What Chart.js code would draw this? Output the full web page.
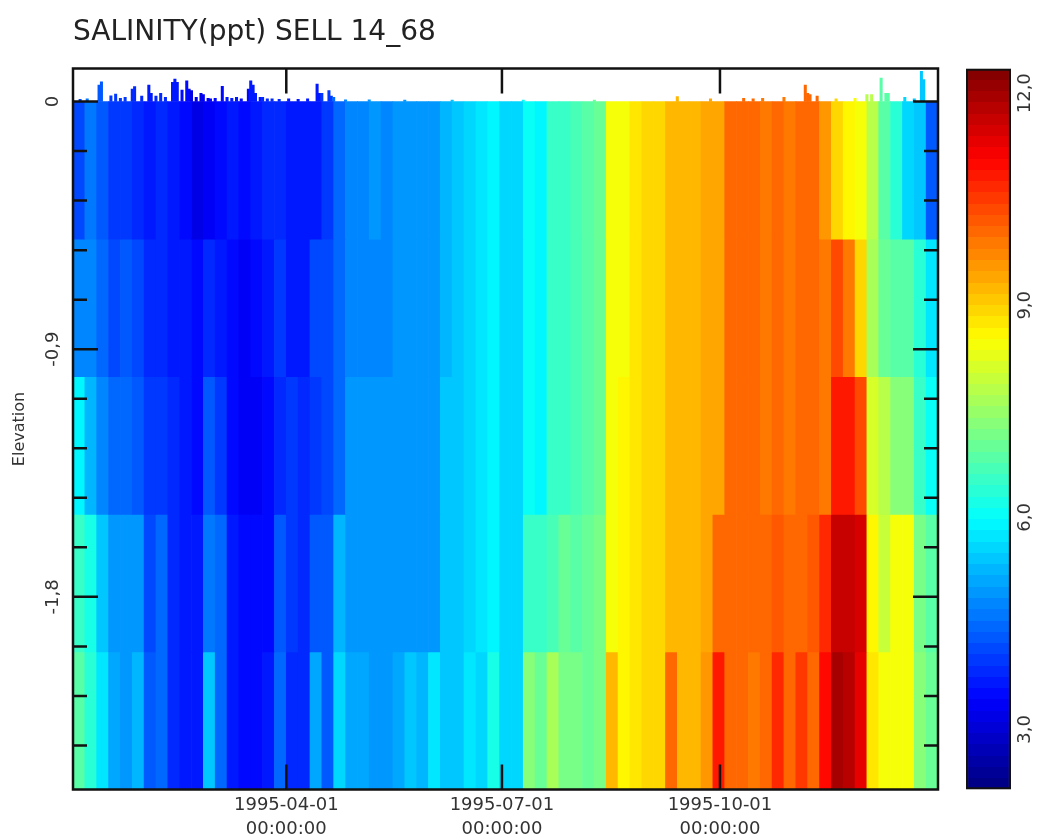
<!DOCTYPE html>
<html>
<head>
<meta charset="utf-8">
<script src="https://cdn.jsdelivr.net/npm/chart.js@4.4.1/dist/chart.umd.min.js"></script>
<style>
  html, body { margin: 0; padding: 0; background: #fff; }
  #wrap { position: relative; width: 1041px; height: 838px; }
  #main { position: absolute; left: 0; top: 0; }
  #bar { position: absolute; left: 940px; top: 0; }
</style>
</head>
<body>
<div id="wrap">
  <canvas id="main" width="1041" height="838"></canvas>
  <canvas id="bar" width="101" height="838"></canvas>
</div>
<script>
// one column every 5 days, starting 1995-01-01
const stepDays = 5;

// salinity (ppt) per layer, top layer first
const sal1 = [4.2,4.6,4.3,4.0,4.0,3.8,3.7,3.8,3.6,3.5,3.2,3.3,3.5,3.6,3.5,3.7,3.8,3.9,
              3.6,3.6,3.7,4.0,4.5,4.8,4.8,4.9,4.8,4.9,4.9,4.9,4.9,5.3,5.4,5.6,5.7,5.9,
              5.5,5.6,6.0,5.9,6.5,6.5,6.7,6.9,7.0,8.4,8.5,8.7,8.9,9.0,9.2,9.3,9.3,9.4,
              9.4,10.1,10.0,10.0,9.9,10.1,9.9,10.1,10.0,9.5,9.0,8.6,8.4,7.8,6.8,6.4,5.6,5.4,4.3];
const sal2 = [4.8,4.7,4.4,4.2,4.3,4.1,3.9,3.9,3.7,3.6,3.5,3.9,3.6,3.5,3.4,3.5,3.6,4.0,
              3.7,3.6,4.1,4.1,4.4,4.8,4.8,4.8,4.8,4.9,4.9,4.9,5.0,5.3,5.4,5.6,5.7,5.9,
              5.5,5.6,6.0,5.9,6.5,6.5,6.7,6.9,7.0,8.4,8.5,8.7,8.9,9.0,9.2,9.3,9.3,9.4,
              9.4,10.1,10.0,10.0,9.9,10.1,9.9,10.1,10.0,9.8,10.4,9.8,9.0,7.6,7.0,6.9,6.8,6.3,5.8];
const sal3 = [5.9,5.2,4.7,4.5,4.5,4.3,4.0,4.0,3.8,3.6,3.5,4.3,4.0,3.5,3.4,3.4,3.5,3.9,
              4.0,3.9,4.0,4.1,4.5,4.9,4.9,4.9,4.9,4.9,5.0,5.0,5.0,5.4,5.4,5.6,5.7,5.9,
              5.5,5.6,6.0,5.9,6.5,6.6,6.7,6.9,7.0,8.4,8.6,8.7,8.9,9.0,9.2,9.3,9.3,9.4,
              9.4,10.1,10.0,10.0,9.9,10.1,9.9,10.1,10.0,9.9,10.9,10.9,10.3,8.2,7.8,7.4,7.3,6.6,6.0];
const sal4 = [6.6,6.2,5.4,4.9,5.0,4.9,4.2,4.5,3.8,3.6,3.6,4.6,4.4,3.6,3.5,3.5,3.5,4.3,
              4.0,3.8,4.3,4.3,5.3,5.0,4.9,4.9,4.9,4.9,5.0,5.0,5.0,5.4,5.4,5.6,5.7,5.9,
              5.5,5.6,6.5,6.6,6.7,7.0,6.9,7.0,7.2,8.5,8.6,8.7,8.9,9.0,9.2,9.2,9.3,9.4,
              10.0,10.1,10.0,10.0,10.0,10.2,10.1,10.1,10.2,10.6,11.6,11.6,11.4,8.6,8.0,8.4,8.4,7.2,6.8];
const sal5 = [6.9,6.4,5.7,5.1,5.0,5.2,4.3,4.4,3.9,3.7,3.7,5.4,4.5,3.7,3.5,3.5,3.6,4.4,
              3.9,3.8,5.1,4.3,5.6,5.1,5.1,5.0,5.0,5.1,5.4,5.2,5.8,5.4,5.4,5.8,5.5,6.2,
              5.5,5.6,7.3,7.0,7.6,7.1,7.1,7.0,7.1,9.3,8.6,8.7,9.0,9.0,10.1,9.3,9.3,9.5,
              10.8,10.1,10.0,9.9,10.0,10.6,10.0,10.5,10.1,11.0,12.0,11.8,11.3,8.8,8.5,8.4,8.4,7.4,7.0];

// layer limits (m)
const layerTop = [0, -0.5, -1.0, -1.5, -2.0];
const layerBottom = [-0.5, -1.0, -1.5, -2.0, -2.5];

// water surface above 0 (day of year, elevation)
const surfaceDay = [3,6,11,12,16,18,20,22,25,26,29,32,33,35,37,39,42,43,44,46,48,49,50,52,54,55,57,58,60,63,65,67,69,71,
                    74,75,76,77,79,80,82,84,87,91,95,99,103,104,105,108,109,110,115,125,140,160,190,220,
                    255,269,283,287,291,300,309,310,311,314,322,330,335,337,341,343,344,351,355,358,359];
const surfaceLevel = [0.008,0.01,0.06,0.072,0.021,0.027,0.012,0.015,0.045,0.054,0.02,0.06,0.03,0.02,0.03,0.015,0.07,0.082,0.07,0.042,0.075,0.045,0.04,0.015,0.03,0.025,0.012,0.01,0.012,0.055,0.015,0.012,0.015,0.01,
                      0.045,0.075,0.06,0.03,0.015,0.015,0.01,0.01,0.008,0.01,0.008,0.01,0.063,0.03,0.03,0.04,0.02,0.015,0.006,0.006,0.005,0.005,0.005,0.005,
                      0.018,0.01,0.012,0.01,0.012,0.015,0.06,0.03,0.025,0.02,0.01,0.012,0.025,0.025,0.085,0.03,0.03,0.015,0.01,0.11,0.08];

// axes
const dateTicks = [90, 181, 273];
const dateLabels = ['1995-04-01', '1995-07-01', '1995-10-01'];
const elevTicks = [0, -0.9, -1.8];
const colorTicks = [3, 6, 9, 12];
const cMin = 2.15, cMax = 12.35;

Chart.defaults.font.family = "'DejaVu Sans', sans-serif";
Chart.defaults.color = '#333';

function jetT(t) {
  const c = x => Math.round(255 * Math.min(1, Math.max(0, x)));
  return `rgb(${c(1.5 - Math.abs(4 * t - 3))},${c(1.5 - Math.abs(4 * t - 2))},${c(1.5 - Math.abs(4 * t - 1))})`;
}
function jet(v) {
  let t = (v - cMin) / (cMax - cMin);
  let k = Math.min(63, Math.max(0, Math.floor(t * 64)));
  return jetT((k + 0.5) / 64);
}
const comma = v => v === 0 ? '0' : v.toFixed(1).replace('.', ',');

const layers = [sal1, sal2, sal3, sal4, sal5];
const datasets = layers.map((vals, k) => ({
  label: 'layer ' + (k + 1),
  data: vals.map((v, i) => ({ x: i * stepDays + stepDays / 2, y: [layerBottom[k], layerTop[k]] })),
  backgroundColor: vals.map(jet),
  grouped: false,
  barPercentage: 1,
  categoryPercentage: 1,
  borderWidth: 0,
}));
datasets.push({
  label: 'surface',
  xAxisID: 'x2',
  data: surfaceDay.map((d, i) => ({ x: d, y: [0, surfaceLevel[i]] })),
  backgroundColor: surfaceDay.map(d => jet(sal1[Math.min(sal1.length - 1, Math.floor(d / stepDays))])),
  grouped: false,
  barPercentage: 1,
  categoryPercentage: 1,
  borderWidth: 0,
});

// frame + inward ticks on all four sides
const frameTicks = {
  id: 'frameTicks',
  afterDatasetsDraw(chart) {
    const { ctx, chartArea: a, scales: { x, y } } = chart;
    ctx.save();
    ctx.strokeStyle = '#111';
    ctx.lineWidth = 2.5;
    ctx.beginPath();
    dateTicks.forEach(v => {
      const px = x.getPixelForValue(v);
      ctx.moveTo(px, a.top); ctx.lineTo(px, a.top + 25);
      ctx.moveTo(px, a.bottom); ctx.lineTo(px, a.bottom - 25);
    });
    for (let k = 0; k <= 13; k++) {
      const py = y.getPixelForValue(-0.18 * k);
      const len = k % 5 === 0 ? 25 : 14;
      ctx.moveTo(a.left, py); ctx.lineTo(a.left + len, py);
      ctx.moveTo(a.right, py); ctx.lineTo(a.right - len, py);
    }
    ctx.stroke();
    ctx.strokeRect(a.left, a.top, a.width, a.height);
    ctx.restore();
  }
};

new Chart(document.getElementById('main'), {
  type: 'bar',
  data: { datasets },
  plugins: [frameTicks],
  options: {
    responsive: false,
    animation: false,
    layout: { padding: { left: 0, right: 103, top: 0, bottom: 0 } },
    plugins: {
      legend: { display: false },
      tooltip: { enabled: false },
      title: {
        display: true,
        text: 'SALINITY(ppt) SELL 14_68',
        align: 'start',
        fullSize: false,
        color: '#222',
        font: { size: 28, weight: 'normal', lineHeight: 1.2 },
        padding: { top: 16, bottom: 18.9 },
      },
    },
    scales: {
      x: {
        type: 'linear', min: 0, max: 365, offset: false,
        grid: { display: false, drawTicks: false },
        border: { display: false },
        afterBuildTicks: s => { s.ticks = dateTicks.map(v => ({ value: v })); },
        ticks: {
          autoSkip: false, maxRotation: 0, padding: 3.5,
          font: { size: 18, lineHeight: 1.33 },
          callback: (v, i) => [dateLabels[i], '00:00:00'],
        },
        afterFit: s => { s.height = 48.5; },
      },
      x2: { type: 'linear', min: 0, max: 365, offset: false, display: false },
      y: {
        min: -2.5, max: 0.12,
        grid: { display: false, drawTicks: false },
        border: { display: false },
        afterBuildTicks: s => { s.ticks = elevTicks.map(v => ({ value: v })); },
        ticks: {
          minRotation: 90, maxRotation: 90, crossAlign: 'center', padding: 2.5,
          font: { size: 18 },
          callback: v => comma(v),
        },
        title: { display: true, text: 'Elevation', font: { size: 16 }, padding: { top: 10.4, bottom: 0 } },
        afterFit: s => { s.width = 73; },
      },
    },
  },
});

// colour bar
let barGradient = null;
new Chart(document.getElementById('bar'), {
  type: 'bar',
  data: {
    labels: ['salinity'],
    datasets: [{
      data: [[cMin, cMax]],
      backgroundColor: c => {
        const a = c.chart.chartArea;
        if (!a) return '#888';
        if (!barGradient) {
          barGradient = c.chart.ctx.createLinearGradient(0, a.bottom, 0, a.top);
          for (let k = 0; k < 64; k++) {
            const col = jetT((k + 0.5) / 64);
            barGradient.addColorStop(k / 64, col);
            barGradient.addColorStop((k + 1) / 64, col);
          }
        }
        return barGradient;
      },
      borderColor: '#111',
      borderWidth: 2.5,
      borderSkipped: false,
      barPercentage: 1,
      categoryPercentage: 1,
    }],
  },
  options: {
    responsive: false,
    animation: false,
    layout: { padding: { left: 26, right: 0, top: 68.5, bottom: 48.5 } },
    plugins: { legend: { display: false }, tooltip: { enabled: false } },
    scales: {
      x: { display: false },
      y: {
        position: 'right', min: cMin, max: cMax,
        grid: { display: false, drawTicks: false },
        border: { display: false },
        afterBuildTicks: s => { s.ticks = colorTicks.map(v => ({ value: v })); },
        ticks: {
          minRotation: 90, maxRotation: 90, crossAlign: 'center', padding: -6,
          font: { size: 18 },
          callback: v => v.toFixed(1).replace('.', ','),
        },
        afterFit: s => { s.width = 30; },
      },
    },
  },
});
</script>
</body>
</html>
